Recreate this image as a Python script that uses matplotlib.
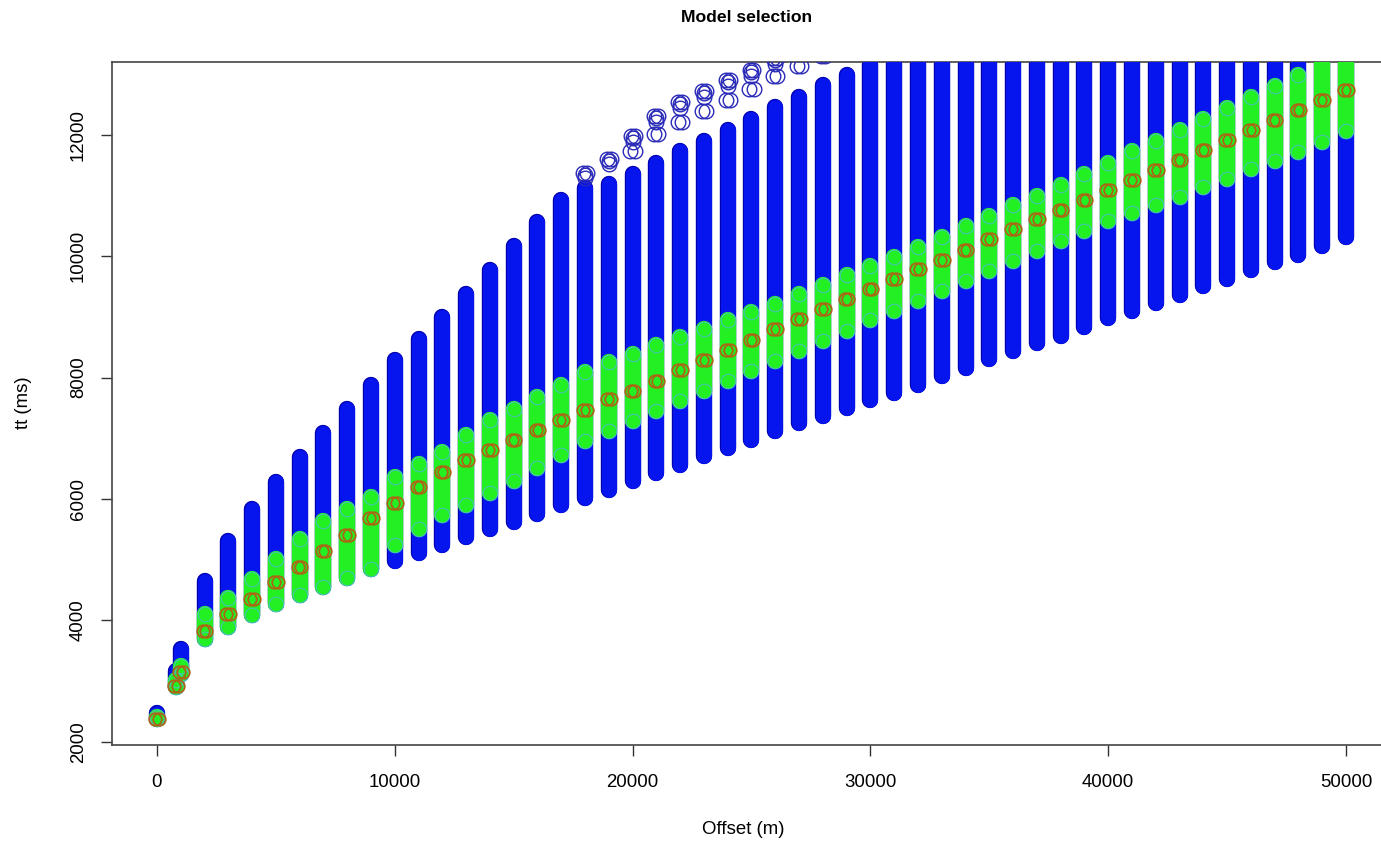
import matplotlib
matplotlib.use('Agg')
import matplotlib.pyplot as plt
import matplotlib.transforms as mtransforms

# offsets (m) of each receiver column
offsets = [0, 800, 1000, 2000, 3000, 4000, 5000, 6000, 7000, 8000, 9000,
           10000, 11000, 12000, 13000, 14000, 15000, 16000, 17000, 18000, 19000,
           20000, 21000, 22000, 23000, 24000, 25000, 26000, 27000, 28000, 29000,
           30000, 31000, 32000, 33000, 34000, 35000, 36000, 37000, 38000, 39000,
           40000, 41000, 42000, 43000, 44000, 45000, 46000, 47000, 48000, 49000,
           50000]

# all models: min / max traveltime (ms)
all_lo = [2378, 2903, 3110, 3690, 3888, 4085, 4266, 4414, 4545, 4693, 4841,
          4972, 5105, 5235, 5366, 5497, 5612, 5744, 5892, 6023, 6154,
          6302, 6433, 6565, 6713, 6844, 6975, 7123, 7254, 7369, 7501,
          7632, 7747, 7878, 8026, 8158, 8305, 8437, 8568, 8683, 8831,
          8979, 9094, 9225, 9356, 9504, 9619, 9767, 9898, 10013, 10160,
          10309]
all_hi = [2476, 3166, 3527, 4644, 5300, 5842, 6286, 6696, 7090, 7484, 7878,
          8289, 8634, 8995, 9373, 9767, 10160, 10555, 10932, 11130, 11180,
          11360, 11540, 11737, 11901, 12082, 12263, 12460, 12624, 12821, 12985,
          13170, 13330, 13480, 13630, 13780, 13920, 14060, 14200, 14330, 14460,
          14590, 14710, 14830, 14950, 15070, 15180, 15290, 15400, 15510, 15620,
          15720]

# selected models: min / max traveltime (ms)
sel_lo = [2370, 2900, 3120, 3690, 3888, 4085, 4266, 4414, 4545, 4693, 4841,
          5235, 5497, 5727, 5908, 6105, 6302, 6516, 6729, 6959, 7123,
          7287, 7451, 7616, 7780, 7944, 8108, 8272, 8437, 8601, 8765,
          8946, 9094, 9258, 9422, 9586, 9750, 9914, 10079, 10243, 10407,
          10571, 10703, 10834, 10982, 11146, 11277, 11442, 11573, 11721, 11885,
          12066]
sel_hi = [2400, 3020, 3250, 4110, 4365, 4676, 5005, 5333, 5629, 5842, 6039,
          6368, 6581, 6778, 7057, 7304, 7484, 7681, 7878, 8092, 8256,
          8388, 8535, 8667, 8798, 8946, 9077, 9208, 9373, 9520, 9685,
          9832, 9980, 10144, 10309, 10489, 10653, 10834, 10998, 11179, 11360,
          11540, 11737, 11901, 12082, 12263, 12443, 12624, 12805, 12985, 13400,
          13600]

# best model traveltime (ms)
best_tt = [2375, 2920, 3150, 3823, 4102, 4348, 4627, 4873, 5136, 5399, 5678,
           5941, 6204, 6440, 6647, 6811, 6975, 7139, 7304, 7468, 7649,
           7780, 7944, 8125, 8289, 8453, 8617, 8798, 8962, 9126, 9290,
           9455, 9619, 9783, 9931, 10095, 10276, 10440, 10604, 10768, 10932,
           11097, 11261, 11425, 11590, 11754, 11918, 12082, 12246, 12410, 12574,
           12739]

# stray models above the columns
stray_off = [18000, 19000, 20000, 21000, 22000, 23000, 24000, 25000, 26000, 27000]
stray_hi = [11327, 11556, 11934, 12263, 12492, 12673, 12854, 13018, 13215, 13380]
pair_off = [20000, 21000, 22000, 23000, 24000, 25000, 26000, 27000, 28000]
pair_tt = [11737, 12016, 12213, 12394, 12574, 12755, 12970, 13130, 13300]

plt.rcParams['font.family'] = ['Liberation Sans', 'DejaVu Sans']

fig = plt.figure(figsize=(13.81, 8.42), dpi=100)
ax = fig.add_axes([112/1381, 97/842, 1283/1381, 683/842])

# columns of overlapping circles drawn as round-capped thick lines
ax.vlines(offsets, all_lo, all_hi, colors='#0000b0', linewidth=11.8, capstyle='round', zorder=2)
ax.vlines(offsets, all_lo, all_hi, colors='#0614ee', linewidth=10.8, capstyle='round', zorder=3)
ax.vlines(offsets, sel_lo, sel_hi, colors='#22f022', linewidth=11.8, capstyle='round', zorder=4)

circ = dict(linestyle='none', marker='o', ms=10.5, mfc='none')
ax.plot(offsets, sel_lo, mec='#52b8e0', mew=0.8, alpha=0.75, zorder=5, **circ)
ax.plot(offsets, sel_hi, mec='#52b8e0', mew=0.8, alpha=0.75, zorder=5, **circ)

def shifted(dx, dy):
    return mtransforms.offset_copy(ax.transData, fig=fig, x=dx, y=dy, units='points')

for dx, dy in [(-1.4, 2.0), (1.4, 2.0), (0, -2.0), (0, 0.6)]:
    ax.plot(stray_off, stray_hi, mec='#2a2ab8', mew=1.0, transform=shifted(dx, dy), zorder=3, **circ)
for dx in [-1.5, 1.5]:
    ax.plot(pair_off, pair_tt, mec='#2a2ab8', mew=1.0, transform=shifted(dx, 0), zorder=3, **circ)

for dx in [-1.3, 1.3]:
    ax.plot(offsets, best_tt, linestyle='none', marker='o', ms=9.0, mfc='none',
            mec='#ac6416', mew=1.3, transform=shifted(dx, 0), zorder=6)

ax.set_xlim(-1890, 52060)
ax.set_ylim(1946, 13198)
ax.set_xticks([0, 10000, 20000, 30000, 40000, 50000])
ax.set_yticks([2000, 4000, 6000, 8000, 10000, 12000])
ax.tick_params(axis='x', length=8, width=1, pad=13, labelsize=13.4, color='#333333')
ax.tick_params(axis='y', length=8, width=1, pad=10, labelsize=13.4, color='#333333')
for lab in ax.get_yticklabels():
    lab.set_rotation(90)
    lab.set_va('center')
for s in ['left', 'bottom', 'top']:
    ax.spines[s].set_color('#444444')
    ax.spines[s].set_linewidth(1.2)
ax.spines['right'].set_visible(False)

fig.text(747/1381, 1 - 17/842, 'Model selection', ha='center', va='center',
         fontsize=12.6, fontweight='bold')
fig.text(743/1381, 1 - 830/842, 'Offset (m)', ha='center', va='center', fontsize=13.4)
fig.text(23/1381, 1 - 403/842, 'tt (ms)', ha='center', va='center', rotation=90, fontsize=13.4)

fig.savefig('out.png', dpi=100)
